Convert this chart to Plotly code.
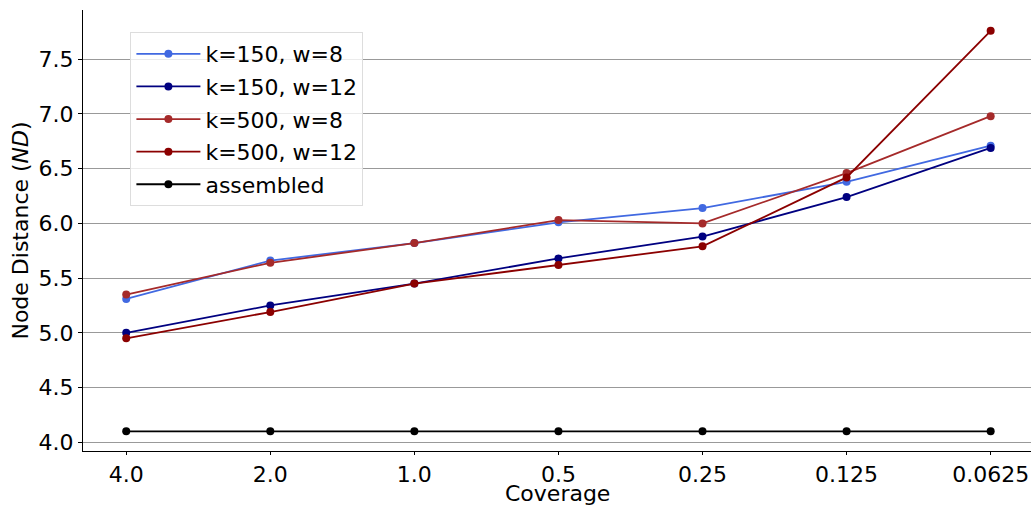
import plotly.graph_objects as go

coverage = ["4.0", "2.0", "1.0", "0.5", "0.25", "0.125", "0.0625"]
k150_w8 = [5.31, 5.66, 5.82, 6.01, 6.14, 6.38, 6.71]
k150_w12 = [5.00, 5.25, 5.45, 5.68, 5.88, 6.24, 6.69]
k500_w8 = [5.35, 5.64, 5.82, 6.03, 6.00, 6.46, 6.98]
k500_w12 = [4.95, 5.19, 5.45, 5.62, 5.79, 6.42, 7.76]
assembled = [4.10, 4.10, 4.10, 4.10, 4.10, 4.10, 4.10]

series = [
    ("k=150, w=8", k150_w8, "#4169E1"),
    ("k=150, w=12", k150_w12, "#000080"),
    ("k=500, w=8", k500_w8, "#A52A2A"),
    ("k=500, w=12", k500_w12, "#8B0000"),
    ("assembled", assembled, "#000000"),
]

fig = go.Figure()
for name, vals, col in series:
    fig.add_trace(go.Scatter(
        x=list(range(len(coverage))), y=vals, name=name, mode="lines+markers",
        legendgroup=name,
        line=dict(color=col, width=1.8), marker=dict(color=col, size=8),
    ))

font = "DejaVu Sans, sans-serif"
fig.update_layout(
    width=1031, height=505,
    margin=dict(l=83, r=0, t=10, b=54),
    plot_bgcolor="white", paper_bgcolor="white",
    font=dict(family=font, size=22, color="black"),
    showlegend=True,
    legend=dict(
        x=0.05, y=0.95, xanchor="left", yanchor="top",
        bgcolor="rgba(255,255,255,0.8)", bordercolor="#dddddd", borderwidth=1,
        font=dict(size=22), itemwidth=64, tracegroupgap=1,
    ),
    xaxis=dict(
        tickmode="array", tickvals=list(range(len(coverage))), ticktext=coverage,
        range=[-0.3, 6.28], showgrid=False, zeroline=False, automargin=False,
        showline=True, linecolor="black", linewidth=1.2,
        ticks="outside", ticklen=3, tickcolor="black",
    ),
    yaxis=dict(
        range=[3.92, 7.95], tickvals=[4.0, 4.5, 5.0, 5.5, 6.0, 6.5, 7.0, 7.5],
        ticktext=["4.0", "4.5", "5.0", "5.5", "6.0", "6.5", "7.0", "7.5"],
        showgrid=True, gridcolor="#999999", gridwidth=1, zeroline=False, automargin=False,
        showline=True, linecolor="black", linewidth=1.2,
        ticks="outside", ticklen=4, tickcolor="black",
        title=dict(text="Node Distance (<i>ND</i>)", standoff=3, font=dict(size=22)),
    ),
    annotations=[dict(
        text="Coverage", xref="paper", yref="paper", x=0.5, y=0,
        xanchor="center", yanchor="top", yshift=-28, showarrow=False,
        font=dict(size=22, family=font, color="black"),
    )],
)

fig.write_html("out.html", config={"displayModeBar": False},
               post_script="document.body.style.margin='0';")
